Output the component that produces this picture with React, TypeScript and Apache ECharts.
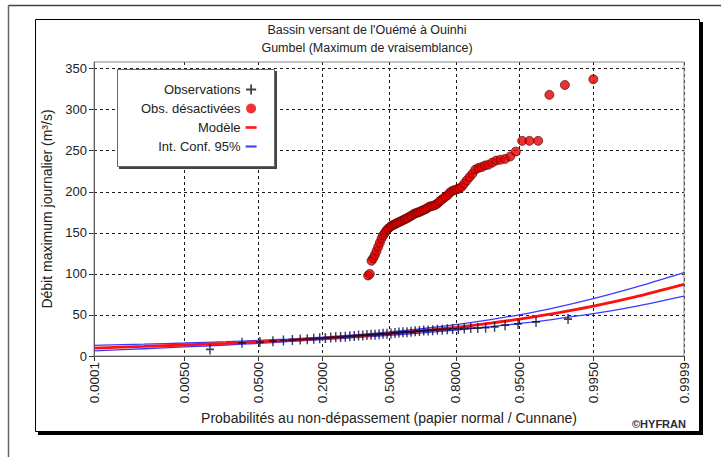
import React, { useEffect, useRef } from 'react';
import * as echarts from 'echarts';

// ---- axis ticks ----
const TICK_PROBS = [0.0001, 0.005, 0.05, 0.2, 0.5, 0.8, 0.95, 0.995, 0.9999];
const TICK_LABELS = ['0.0001', '0.0050', '0.0500', '0.2000', '0.5000', '0.8000', '0.9500', '0.9950', '0.9999'];
const Y_TICKS = [0, 50, 100, 150, 200, 250, 300, 350];

// ---- observations (+) : probability, discharge ----
const OBS_P = [0.0120, 0.0319, 0.0518, 0.0717, 0.0916, 0.1116, 0.1315, 0.1514, 0.1713, 0.1912,
  0.2112, 0.2311, 0.2510, 0.2709, 0.2908, 0.3108, 0.3307, 0.3506, 0.3705, 0.3904,
  0.4104, 0.4303, 0.4502, 0.4701, 0.4900, 0.5100, 0.5299, 0.5498, 0.5697, 0.5896,
  0.6096, 0.6295, 0.6494, 0.6693, 0.6892, 0.7092, 0.7291, 0.7490, 0.7689, 0.7888,
  0.8088, 0.8287, 0.8486, 0.8685, 0.8884, 0.9084, 0.9283, 0.9482, 0.9681, 0.9880];
const OBS_Q = [8, 16, 17, 18, 19, 19.5, 20, 20.5, 21, 21.5,
  22, 22.5, 23, 23, 23.5, 24, 24.5, 25, 25, 25.5,
  26, 26, 26.5, 27, 27, 27.5, 28, 28.5, 29, 29,
  29.5, 30, 30.5, 31, 31, 31.5, 32, 32, 32.5, 33,
  33, 33.5, 34, 34, 34.5, 35.5, 37.5, 39, 41.5, 45];

// ---- deactivated observations (red circles) ----
const DEACT_P = [0.3960, 0.4043, 0.4127, 0.4210, 0.4293, 0.4376, 0.4459, 0.4542, 0.4626, 0.4709,
  0.4792, 0.4875, 0.4958, 0.5042, 0.5125, 0.5208, 0.5291, 0.5374, 0.5458, 0.5541,
  0.5624, 0.5707, 0.5790, 0.5874, 0.5957, 0.6040, 0.6123, 0.6206, 0.6290, 0.6373,
  0.6456, 0.6539, 0.6622, 0.6705, 0.6789, 0.6872, 0.6955, 0.7038, 0.7121, 0.7205,
  0.7288, 0.7371, 0.7454, 0.7537, 0.7621, 0.7704, 0.7787, 0.7870, 0.7953, 0.8037,
  0.8120, 0.8203, 0.8286, 0.8369, 0.8453, 0.8536, 0.8619, 0.8702, 0.8785, 0.8869,
  0.8952, 0.9035, 0.9118, 0.9201, 0.9285, 0.9368, 0.9451, 0.9534, 0.9617, 0.9700,
  0.9784, 0.9867, 0.9950];
const DEACT_Q = [98, 100, 116, 119, 123, 128, 133, 138, 143, 147,
  150, 153, 155, 157, 158.5, 159.5, 160.5, 161.5, 162.5, 163.5,
  164.5, 165.5, 166.5, 167.5, 168.5, 170, 171, 172.5, 173.5, 174.5,
  175, 176, 177, 178, 179, 180.5, 182, 182.5, 183, 184,
  185.5, 188, 190, 192, 194, 196, 199, 201, 202, 203,
  204, 206, 210, 214, 218, 222, 227, 229, 230, 232,
  233, 235.5, 238, 239, 240, 243, 249, 262, 262, 262,
  318, 330, 337];

// ---- fitted model and 95% confidence interval ----
const MODEL_P = [0.0001, 0.001, 0.005, 0.02, 0.05, 0.1, 0.2, 0.35, 0.5, 0.65, 0.8, 0.9, 0.95, 0.98, 0.995, 0.999, 0.9999];
const MODEL_Q = [9.6, 11.6, 13.4, 15.4, 17.2, 19.0, 21.5, 24.4, 27.2, 30.4, 34.9, 40.0, 44.9, 51.2, 60.7, 71.7, 87.3];
const CI_HIGH = [12.9, 14.4, 15.8, 17.4, 19.0, 20.6, 23.1, 26.1, 29.2, 32.9, 38.2, 44.3, 50.2, 58.0, 69.9, 83.3, 101.6];
const CI_LOW = [6.3, 8.8, 11.0, 13.4, 15.4, 17.4, 19.9, 22.7, 25.2, 27.9, 31.6, 35.7, 39.6, 44.4, 51.5, 60.1, 73.0];

// normal probability paper: probability -> standard normal quantile
function probit(p: number): number {
  const a = [-3.969683028665376e1, 2.209460984245205e2, -2.759285104469687e2, 1.38357751867269e2, -3.066479806614716e1, 2.506628277459239];
  const b = [-5.447609879822406e1, 1.615858368580409e2, -1.556989798598866e2, 6.680131188771972e1, -1.328068155288572e1];
  const c = [-7.784894002430293e-3, -3.223964580411365e-1, -2.400758277161838, -2.549732539343734, 4.374664141464968, 2.938163982698783];
  const d = [7.784695709041462e-3, 3.224671290700398e-1, 2.445134137142996, 3.754408661907416];
  const pl = 0.02425;
  if (p < pl) {
    const q = Math.sqrt(-2 * Math.log(p));
    return (((((c[0] * q + c[1]) * q + c[2]) * q + c[3]) * q + c[4]) * q + c[5]) / ((((d[0] * q + d[1]) * q + d[2]) * q + d[3]) * q + 1);
  }
  if (p <= 1 - pl) {
    const q = p - 0.5;
    const r = q * q;
    return (((((a[0] * r + a[1]) * r + a[2]) * r + a[3]) * r + a[4]) * r + a[5]) * q / (((((b[0] * r + b[1]) * r + b[2]) * r + b[3]) * r + b[4]) * r + 1);
  }
  const q = Math.sqrt(-2 * Math.log(1 - p));
  return -(((((c[0] * q + c[1]) * q + c[2]) * q + c[3]) * q + c[4]) * q + c[5]) / ((((d[0] * q + d[1]) * q + d[2]) * q + d[3]) * q + 1);
}

const FONT = "'Liberation Sans', Arial, sans-serif";
const PLUS = 'path://M0,5L10,5M5,0L5,10';

export default function App() {
  const ref = useRef<HTMLDivElement>(null);
  useEffect(() => {
    if (!ref.current) return;
    const chart = echarts.init(ref.current, undefined, { renderer: 'svg' });
    const zTicks = TICK_PROBS.map(probit);
    const pairs = (ps: number[], qs: number[]) => ps.map((p, i) => [probit(p), qs[i]]);
    const dash = { color: '#1a1a1a', width: 1, type: [3, 3] as number[] };

    chart.setOption({
      animation: false,
      backgroundColor: '#fff',
      textStyle: { fontFamily: FONT },
      title: {
        text: "Bassin versant de l'Ouémé à Ouinhi\nGumbel (Maximum de vraisemblance)",
        left: 362,
        top: 16,
        textAlign: 'center',
        textStyle: { fontSize: 12.5, fontWeight: 'normal', color: '#222', lineHeight: 18, fontFamily: FONT },
      },
      grid: { left: 94, right: 37, top: 62, bottom: 101, show: true, borderColor: '#888', borderWidth: 1, z: 1 },
      xAxis: {
        type: 'value',
        min: probit(TICK_PROBS[0]),
        max: probit(TICK_PROBS[TICK_PROBS.length - 1]),
        name: 'Probabilités au non-dépassement (papier normal / Cunnane)',
        nameLocation: 'middle',
        nameGap: 51,
        nameTextStyle: { fontSize: 14, color: '#222', fontFamily: FONT },
        axisLine: { onZero: false, lineStyle: { color: '#333', width: 1 } },
        axisTick: { show: true, length: 5, customValues: zTicks, lineStyle: { color: '#333' } },
        axisLabel: {
          customValues: zTicks,
          rotate: 90,
          fontSize: 13.5,
          color: '#222',
          margin: 6,
          fontFamily: FONT,
          formatter: (v: number) => {
            let best = 0;
            zTicks.forEach((z, i) => { if (Math.abs(z - v) < Math.abs(zTicks[best] - v)) best = i; });
            return TICK_LABELS[best];
          },
        },
        splitLine: { show: true, lineStyle: dash },
      },
      yAxis: {
        type: 'value',
        min: 0,
        max: 358,
        name: 'Débit maximum journalier (m³/s)',
        nameLocation: 'middle',
        nameGap: 35,
        nameTextStyle: { fontSize: 14, color: '#222', fontFamily: FONT },
        axisLine: { show: true, onZero: false, lineStyle: { color: '#333', width: 1 } },
        axisTick: { show: true, length: 5, customValues: Y_TICKS, lineStyle: { color: '#333' } },
        axisLabel: { customValues: Y_TICKS, fontSize: 13, color: '#222', margin: 7, fontFamily: FONT },
        splitLine: { show: true, lineStyle: dash },
      },
      legend: {
        orient: 'vertical',
        align: 'right',
        right: 464,
        top: 82,
        padding: 0,
        itemWidth: 11,
        itemHeight: 10,
        itemGap: 4,
        selectedMode: false,
        textStyle: { fontSize: 13, color: '#222', fontFamily: FONT, lineHeight: 15 },
        data: [
          { name: 'Observations', icon: PLUS, itemStyle: { color: 'rgba(0,0,0,0)', borderColor: '#111', borderWidth: 1.8 } },
          { name: 'Obs. désactivées', icon: 'circle', itemStyle: { color: '#ee0000', borderColor: '#ee0000', borderWidth: 0 } },
          { name: 'Modèle', icon: 'path://M0,0L10,0L10,2.4L0,2.4Z', itemStyle: { color: '#ff1a1a', borderWidth: 0 } },
          { name: 'Int. Conf. 95%', icon: 'path://M0,0L10,0L10,2L0,2Z', itemStyle: { color: '#4646ff', borderWidth: 0 } },
        ],
      },
      graphic: [
        { type: 'line', z: -10, shape: { x1: 8.5, y1: 5.5, x2: 721, y2: 5.5 }, style: { stroke: '#444', lineWidth: 1.5 } },
        { type: 'line', z: -10, shape: { x1: 8.5, y1: 5.5, x2: 8.5, y2: 457 }, style: { stroke: '#666', lineWidth: 1.5 } },
        { type: 'rect', z: -9, shape: { x: 38, y: 22, width: 665, height: 413 }, style: { fill: '#000' } },
        { type: 'rect', z: -8, shape: { x: 35.5, y: 19.5, width: 664, height: 412 }, style: { fill: '#fff', stroke: '#000', lineWidth: 1 } },
        { type: 'rect', z: 3, shape: { x: 119, y: 71, width: 158, height: 98 }, style: { fill: '#444' } },
        { type: 'rect', z: 3, shape: { x: 117.5, y: 69.5, width: 157, height: 97 }, style: { fill: '#fff', stroke: '#666', lineWidth: 1 } },
        { type: 'text', z: 5, left: 632, top: 418, style: { text: '©HYFRAN', font: `bold 11px ${FONT}`, fill: '#2a2a3a' } },
      ],
      series: [
        {
          name: 'Int. Conf. 95%', type: 'line', data: pairs(MODEL_P, CI_HIGH), smooth: 0.3, symbol: 'none',
          lineStyle: { color: '#3a3aff', width: 1.3 }, itemStyle: { color: '#3a3aff' }, z: 2,
        },
        {
          name: 'Int. Conf. 95%', type: 'line', data: pairs(MODEL_P, CI_LOW), smooth: 0.3, symbol: 'none',
          lineStyle: { color: '#3a3aff', width: 1.3 }, itemStyle: { color: '#3a3aff' }, z: 2,
        },
        {
          name: 'Modèle', type: 'line', data: pairs(MODEL_P, MODEL_Q), smooth: 0.3, symbol: 'none',
          lineStyle: { color: '#ff1010', width: 2.8 }, itemStyle: { color: '#ff1010' }, z: 3,
        },
        {
          name: 'Observations', type: 'scatter', data: pairs(OBS_P, OBS_Q),
          symbol: PLUS, symbolSize: [8, 10],
          itemStyle: { color: 'rgba(0,0,0,0)', borderColor: '#0c0c34', borderWidth: 1.6 }, z: 4,
        },
        {
          name: 'Obs. désactivées', type: 'scatter', data: pairs(DEACT_P, DEACT_Q),
          symbol: 'circle', symbolSize: 9,
          itemStyle: { color: '#e40000', borderColor: '#4a0000', borderWidth: 0.8 }, z: 5,
        },
      ],
    });
    return () => chart.dispose();
  }, []);
  return <div ref={ref} style={{ position: 'absolute', left: 0, top: 0, width: 721, height: 457, background: '#fff' }} />;
}
